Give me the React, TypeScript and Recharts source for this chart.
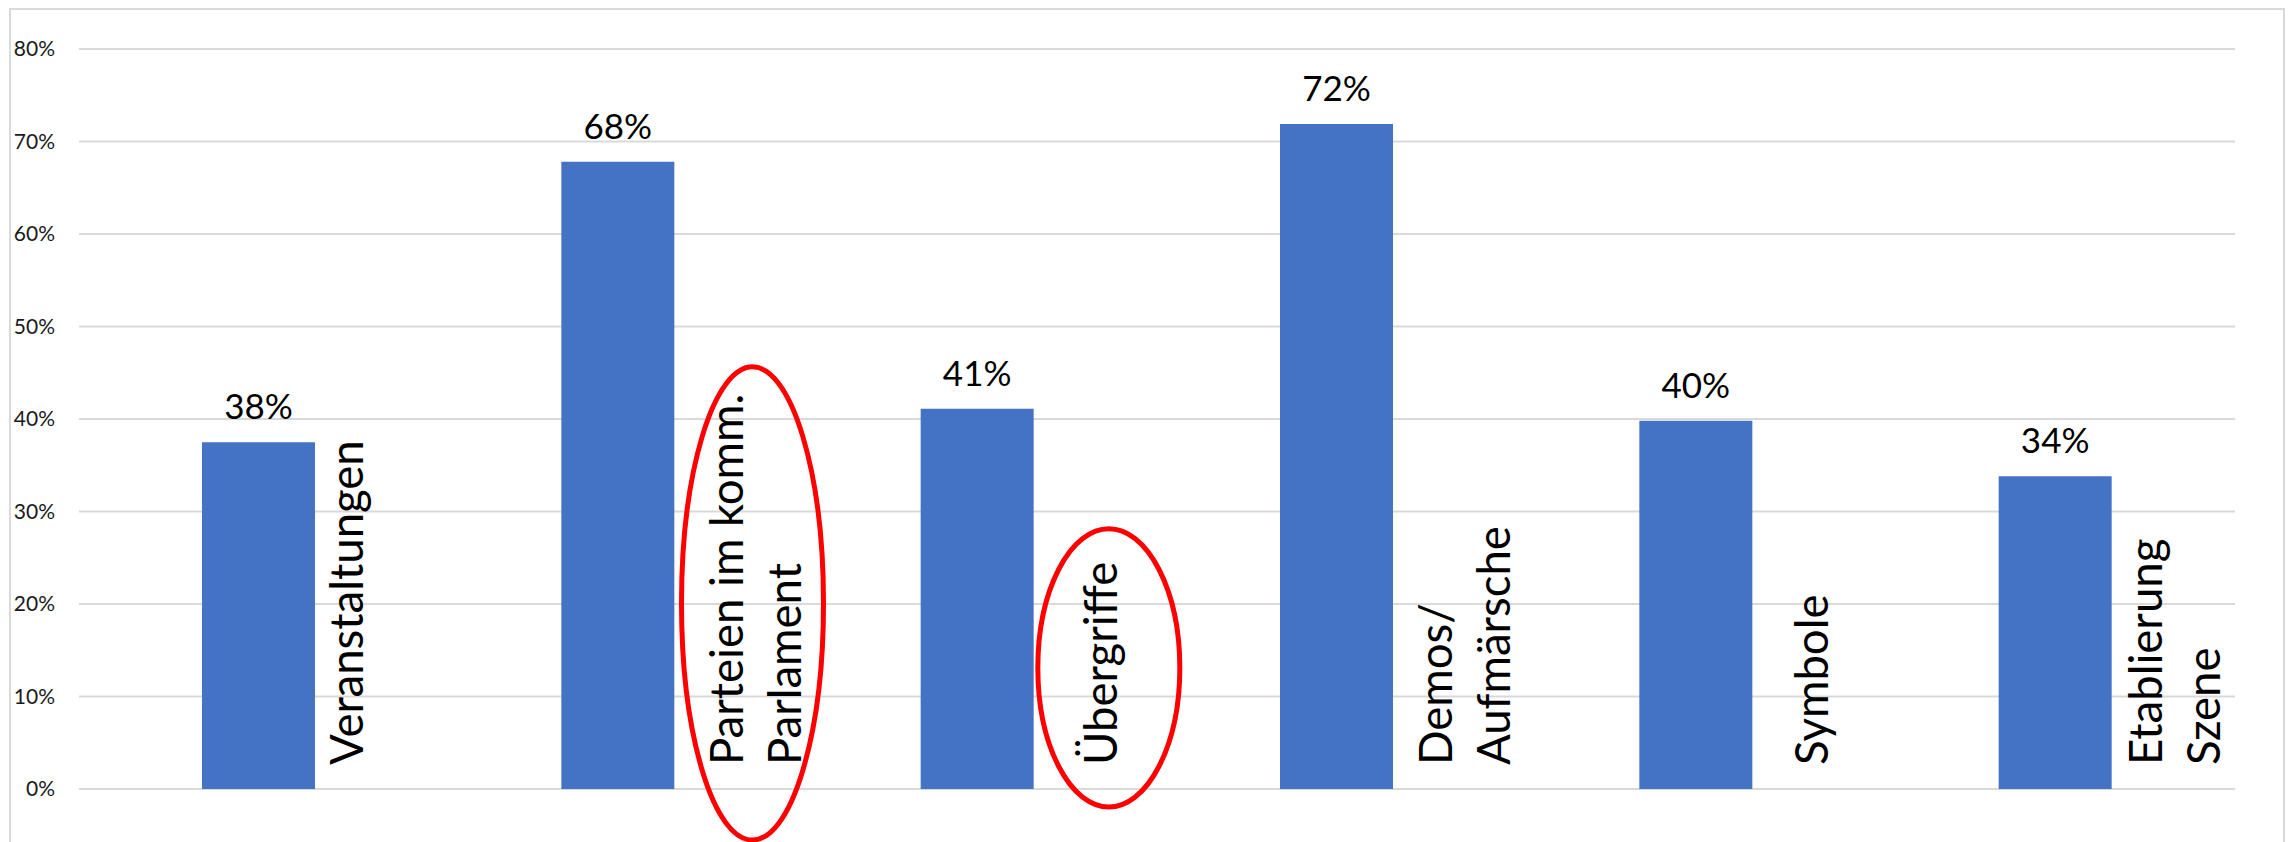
import React from 'react';
import { BarChart, Bar, XAxis, YAxis, CartesianGrid, LabelList } from 'recharts';

// categories (line breaks as in the source labels)
const categories = [
  'Veranstaltungen',
  'Parteien im komm.\nParlament',
  'Übergriffe',
  'Demos/\nAufmärsche',
  'Symbole',
  'Etablierung\nSzene',
];

// share of respondents
const shares = [0.375, 0.678, 0.411, 0.719, 0.398, 0.338];

const yTicks = [0, 0.1, 0.2, 0.3, 0.4, 0.5, 0.6, 0.7, 0.8];

// labels that are circled in red
const circled = ['Parteien im komm.\nParlament', 'Übergriffe'];

const data = categories.map((name, i) => ({ name, value: shares[i] }));

const FONT = 'Lato, "Open Sans", sans-serif';
const CAT_SIZE = 45.5;
const LINE_GAP = 58;
const LABEL_DX = 104;
// the labels were placed by hand in the original, so each one sits a bit differently
const LABEL_NUDGE = [0, 21, 36, 11, 28, 3];
// hand-drawn circles: horizontal shift, space above and below the text
const CIRCLE_FIT: Record<string, { dx: number; top: number; bottom: number }> = {
  'Parteien im komm.\nParlament': { dx: -6, top: 27, bottom: 75 },
  'Übergriffe': { dx: 5, top: 33, bottom: 42 },
};

const pct = (v: number) => `${Math.round(v * 100)}%`;

const ctx = typeof document !== 'undefined' ? document.createElement('canvas').getContext('2d') : null;
function textWidth(s: string) {
  if (!ctx) return s.length * 21;
  ctx.font = `${CAT_SIZE}px Lato`;
  return ctx.measureText(s).width;
}

function CategoryTick(props: any) {
  const { x, y, payload, index } = props;
  const name = String(payload.value);
  const lines = name.split('\n');
  const firstBase = x + LABEL_DX + (LABEL_NUDGE[index] ?? 0);
  const startY = y - 24;
  const len = Math.max(...lines.map(textWidth));
  const lastBase = firstBase + (lines.length - 1) * LINE_GAP;
  const fit = CIRCLE_FIT[name];

  let ellipse = null;
  if (circled.includes(name) && fit) {
    const top = startY - len - fit.top;
    const bottom = startY + fit.bottom;
    ellipse = (
      <ellipse
        cx={(firstBase - 31 + lastBase) / 2 + 2 + fit.dx}
        cy={(top + bottom) / 2}
        rx={71}
        ry={(bottom - top) / 2}
        fill="none"
        stroke="#ff0000"
        strokeWidth={5}
      />
    );
  }

  return (
    <g>
      {lines.map((ln, k) => {
        const bx = firstBase + k * LINE_GAP;
        return (
          <text
            key={k}
            x={bx}
            y={startY}
            transform={`rotate(-90 ${bx} ${startY})`}
            textAnchor="start"
            fontFamily={FONT}
            fontSize={CAT_SIZE}
            fill="#000"
          >
            {ln}
          </text>
        );
      })}
      {ellipse}
    </g>
  );
}

export default function App() {
  return (
    <div style={{ position: 'relative', width: 2290, height: 842, overflow: 'hidden', background: '#fff' }}>
      <style>{'body{margin:0;overflow:hidden}'}</style>
      <div
        style={{
          position: 'absolute',
          left: 9,
          top: 8,
          width: 2276,
          height: 900,
          border: '2px solid #d9d9d9',
          boxSizing: 'border-box',
        }}
      />
      <div style={{ position: 'absolute', left: 0, top: 0 }}>
        <BarChart
          width={2290}
          height={842}
          data={data}
          margin={{ top: 49, right: 55, bottom: 0, left: 0 }}
        >
          <CartesianGrid vertical={false} stroke="#d9d9d9" strokeWidth={2} />
          <XAxis
            dataKey="name"
            axisLine={false}
            tickLine={false}
            tickSize={0}
            tickMargin={0}
            interval={0}
            height={53}
            tick={<CategoryTick />}
          />
          <YAxis
            domain={[0, 0.8]}
            ticks={yTicks}
            tickFormatter={pct}
            axisLine={false}
            tickLine={false}
            tickSize={0}
            tickMargin={24}
            width={79}
            tick={{ fontFamily: FONT, fontSize: 21, fill: '#1a1a1a' }}
          />
          <Bar dataKey="value" fill="#4472c4" barSize={113} isAnimationActive={false}>
            <LabelList
              dataKey="value"
              position="top"
              offset={23}
              formatter={(v: any) => pct(Number(v))}
              style={{ fontFamily: FONT, fontSize: 35, fill: '#000' }}
            />
          </Bar>
        </BarChart>
      </div>
    </div>
  );
}
